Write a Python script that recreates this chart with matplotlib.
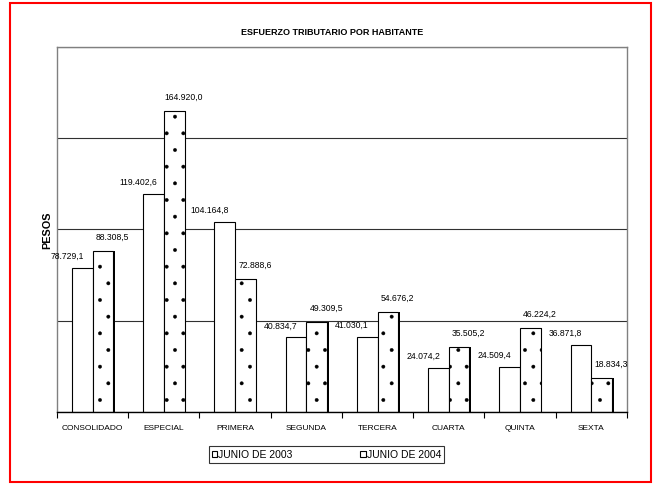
import matplotlib
matplotlib.use('Agg')
from matplotlib import pyplot as plt
from matplotlib import patches
from matplotlib import patheffects
import numpy as np

# Datos
categorias = ['CONSOLIDADO', 'ESPECIAL', 'PRIMERA', 'SEGUNDA', 'TERCERA',
              'CUARTA', 'QUINTA', 'SEXTA']
junio_2003 = [78729.1, 119402.6, 104164.8, 40834.7, 41030.1, 24074.2, 24509.4, 36871.8]
junio_2004 = [88308.5, 164920.0, 72888.6, 49309.5, 54676.2, 35505.2, 46224.2, 18834.3]
series = ['JUNIO DE 2003', 'JUNIO DE 2004']


def formato(v):
    # 119402.6 -> 119.402,6
    s = f'{v:,.1f}'
    return s.replace(',', 'X').replace('.', ',').replace('X', '.')


plt.rcParams['font.family'] = ['Liberation Sans', 'DejaVu Sans']
plt.rcParams['hatch.color'] = '#505050'
plt.rcParams['hatch.linewidth'] = 0.3
estrecha = ['Liberation Sans Narrow', 'Liberation Sans']

fig = plt.figure(figsize=(6.53, 4.85), dpi=100)
ax = fig.add_axes([0.0873, 0.1485, 0.8727, 0.7525])

x = np.arange(len(categorias))
w = 0.29

b1 = ax.bar(x - w / 2, junio_2003, w, color='white', edgecolor='black',
            linewidth=0.8, label=series[0], zorder=3)
b2 = ax.bar(x + w / 2, junio_2004, w, color='white', edgecolor='black',
            linewidth=0.8, hatch='.', label=series[1], zorder=3)
for b in b2:
    b.set_path_effects([patheffects.SimplePatchShadow(offset=(1.2, 0), shadow_rgbFace='black', alpha=1),
                        patheffects.Normal()])

# Etiquetas de valor
for xi, v in zip(x - w / 2, junio_2003):
    ax.annotate(formato(v), (xi, v), xytext=(-11, 9), textcoords='offset points',
                ha='center', va='center', fontsize=6.2, family=estrecha, zorder=4)
for xi, v in zip(x + w / 2, junio_2004):
    ax.annotate(formato(v), (xi, v), xytext=(7, 10.5), textcoords='offset points',
                ha='center', va='center', fontsize=6.2, family=estrecha, zorder=4)

ax.set_xlim(-0.5, len(categorias) - 0.5)
ax.set_ylim(0, 200000)
ax.set_yticks([0, 50000, 100000, 150000, 200000])
ax.set_yticklabels([])
ax.tick_params(axis='y', length=0)
ax.grid(axis='y', color='#303030', linewidth=0.8, zorder=0)

ax.set_xticks(x)
ax.set_xticklabels(categorias, fontsize=6.0, family=estrecha)
ax.set_xticks(np.arange(len(categorias) + 1) - 0.5, minor=True)
ax.tick_params(axis='x', which='major', length=0, pad=9)
ax.tick_params(axis='x', which='minor', length=4, width=0.8, direction='out')

for s in ['left', 'top', 'right']:
    ax.spines[s].set_color('#808080')
    ax.spines[s].set_linewidth(1.0)
ax.spines['bottom'].set_color('black')
ax.spines['bottom'].set_linewidth(1.0)
ax.spines['bottom'].set_zorder(5)

ax.set_ylabel('PESOS', fontsize=7.8, fontweight='bold')
ax.yaxis.set_label_coords(-0.008, 0.5)
fig.text(0.508, 0.933, 'ESFUERZO TRIBUTARIO POR HABITANTE', ha='center', va='center',
         fontsize=6.5, fontweight='bold')

leg = fig.legend(handles=[b1, b2], labels=series, loc='center', ncol=2,
                 bbox_to_anchor=(0.500, 0.061), fontsize=7.5, frameon=True,
                 fancybox=False, edgecolor='black', handlelength=0.5, handleheight=0.5,
                 handletextpad=0.1, columnspacing=6.5, borderpad=0.3, borderaxespad=0)
leg.get_frame().set_linewidth(0.8)

# Marco rojo
fig.patches.append(patches.Rectangle((0.0153, 0.004), 0.9817, 0.988, transform=fig.transFigure,
                                     fill=False, edgecolor='red', linewidth=1.5))

fig.savefig('out.png', dpi=100)
